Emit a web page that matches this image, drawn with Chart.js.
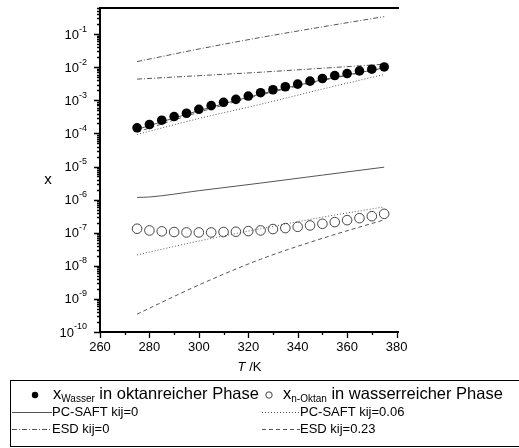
<!DOCTYPE html>
<html>
<head>
<meta charset="utf-8">
<script src="https://cdn.jsdelivr.net/npm/chart.js@4.4.1/dist/chart.umd.min.js"></script>
<style>
  html, body { margin: 0; padding: 0; background: #fff; }
</style>
</head>
<body>
<canvas id="diagramm" width="519" height="448"></canvas>
<script>
// Messpunkte (Temperatur in K)
const T_EXP = [275, 280, 285, 290, 295, 300, 305, 310, 315, 320, 325, 330, 335, 340, 345, 350, 355, 360, 365, 370, 375];
const X_WASSER = [1.48e-4, 1.86e-4, 2.51e-4, 3.24e-4, 4.07e-4, 5.37e-4, 6.92e-4, 8.71e-4, 1.07e-3, 1.35e-3, 1.70e-3,
                  2.09e-3, 2.57e-3, 3.09e-3, 3.80e-3, 4.57e-3, 5.62e-3, 6.46e-3, 7.76e-3, 8.71e-3, 1.02e-2];
const X_OKTAN = [1.32e-7, 1.17e-7, 1.10e-7, 1.05e-7, 1.02e-7, 1.02e-7, 1.02e-7, 1.05e-7, 1.07e-7, 1.12e-7, 1.17e-7,
                 1.29e-7, 1.38e-7, 1.51e-7, 1.66e-7, 1.86e-7, 2.09e-7, 2.40e-7, 2.75e-7, 3.16e-7, 3.72e-7];

// Modellrechnungen
const T_CALC = [275, 300, 325, 350, 375];
const T_CALC_B = [275, 280, 300, 325, 350, 375];
const ESD0_OBEN = [1.48e-2, 3.55e-2, 7.94e-2, 0.166, 0.339];
const ESD0_WASSER = [4.37e-3, 5.56e-3, 7.08e-3, 9.33e-3, 1.23e-2];
const PCSAFT0_WASSER = [1.32e-4, 4.90e-4, 1.55e-3, 4.17e-3, 9.55e-3];
const ESD023_WASSER = [1.10e-4, 4.37e-4, 1.45e-3, 3.98e-3, 9.33e-3];
const PCSAFT006_WASSER = [9.3e-5, 2.82e-4, 7.59e-4, 2.19e-3, 6.03e-3];
const PCSAFT0_OKTAN = [1.17e-6, 1.20e-6, 1.86e-6, 3.16e-6, 5.50e-6, 9.55e-6];
const PCSAFT006_OKTAN = [2.14e-8, 5.62e-8, 1.32e-7, 2.95e-7, 6.03e-7];
const ESD023_OKTAN = [3.47e-10, 2.63e-9, 1.58e-8, 6.76e-8, 2.45e-7];

const X_TICKS = [260, 280, 300, 320, 340, 360, 380];

const SCHRIFT = '"Liberation Sans", Arial, sans-serif';
const LINIE = '#555';
const STRICHE = {
    solid: [],
    dotted: [1, 2],
    dashdot: [5, 2, 1, 2],
    dashed: [4, 3]
};

function punkte(ts, vs) {
    return ts.map((t, i) => ({ x: t, y: vs[i] }));
}

function linie(ts, vs, stil) {
    return {
        data: punkte(ts, vs),
        showLine: true,
        pointRadius: 0,
        borderColor: LINIE,
        borderWidth: 1,
        borderDash: STRICHE[stil],
        cubicInterpolationMode: 'monotone',
        order: 5
    };
}

// Text mit Tiefstellung, z.B. x_Wasser
function textMitIndex(ctx, x, y, basis, index, rest, gr, grIndex) {
    ctx.font = gr + 'px ' + SCHRIFT;
    ctx.fillText(basis, x, y);
    x += ctx.measureText(basis).width;
    ctx.font = grIndex + 'px ' + SCHRIFT;
    ctx.fillText(index, x, y + 5);
    x += ctx.measureText(index).width;
    ctx.font = gr + 'px ' + SCHRIFT;
    ctx.fillText(rest, x, y);
}

function musterLinie(ctx, x1, x2, y, stil) {
    ctx.save();
    ctx.strokeStyle = LINIE;
    ctx.lineWidth = 1;
    ctx.setLineDash(STRICHE[stil]);
    ctx.beginPath();
    ctx.moveTo(x1, y + 0.5);
    ctx.lineTo(x2, y + 0.5);
    ctx.stroke();
    ctx.restore();
}

const achsenPlugin = {
    id: 'achsen',
    afterDraw(chart) {
        const { ctx, chartArea: a, scales: { x, y } } = chart;
        ctx.save();

        // Rahmen: links, unten, oben
        ctx.strokeStyle = '#000';
        ctx.lineWidth = 2;
        ctx.beginPath();
        ctx.moveTo(a.right, a.top);
        ctx.lineTo(a.left, a.top);
        ctx.lineTo(a.left, a.bottom);
        ctx.lineTo(a.right, a.bottom);
        ctx.stroke();

        // y-Ticks (logarithmisch)
        ctx.lineWidth = 1.3;
        ctx.beginPath();
        for (let e = -10; e <= -1; e++) {
            for (let m = 1; m <= 9; m++) {
                const v = m * Math.pow(10, e);
                if (v > y.max) break;
                const py = Math.round(y.getPixelForValue(v)) + 0.5;
                const len = m === 1 ? 6 : 3;
                ctx.moveTo(a.left - len, py);
                ctx.lineTo(a.left, py);
            }
        }
        ctx.stroke();

        // y-Beschriftung 10^n
        ctx.fillStyle = '#000';
        ctx.textBaseline = 'middle';
        ctx.textAlign = 'left';
        for (let e = -10; e <= -1; e++) {
            const py = y.getPixelForValue(Math.pow(10, e));
            const hoch = String(e);
            ctx.font = '9px ' + SCHRIFT;
            const wh = ctx.measureText(hoch).width;
            ctx.font = '13px ' + SCHRIFT;
            const wb = ctx.measureText('10').width;
            const rechts = 87;
            ctx.fillText('10', rechts - wh - wb, py + 1);
            ctx.font = '9px ' + SCHRIFT;
            ctx.fillText(hoch, rechts - wh, py - 5);
        }

        // x-Ticks
        ctx.lineWidth = 1.3;
        ctx.beginPath();
        for (let t = 260; t <= 380; t += 10) {
            const px = Math.round(x.getPixelForValue(t)) + 0.5;
            const len = t % 20 === 0 ? 6 : 3;
            ctx.moveTo(px, a.bottom);
            ctx.lineTo(px, a.bottom + len);
        }
        ctx.stroke();

        ctx.textAlign = 'center';
        ctx.font = '13px ' + SCHRIFT;
        X_TICKS.forEach(t => ctx.fillText(String(t), x.getPixelForValue(t), 347));

        // Achsentitel
        const mitte = (a.left + a.right) / 2;
        ctx.textAlign = 'left';
        ctx.font = 'italic 13px ' + SCHRIFT;
        const wT = ctx.measureText('T').width;
        ctx.font = '13px ' + SCHRIFT;
        const wK = ctx.measureText(' /K').width;
        let xs = mitte - (wT + wK) / 2;
        ctx.font = 'italic 13px ' + SCHRIFT;
        ctx.fillText('T', xs, 367);
        ctx.font = '13px ' + SCHRIFT;
        ctx.fillText(' /K', xs + wT, 367);

        ctx.textAlign = 'center';
        ctx.font = '15px ' + SCHRIFT;
        ctx.fillText('x', 48, 180);

        // Legende
        ctx.lineWidth = 1;
        ctx.strokeStyle = '#000';
        ctx.setLineDash([]);
        ctx.strokeRect(10.5, 380.5, 520, 66);

        ctx.textAlign = 'left';
        ctx.fillStyle = '#000';
        ctx.beginPath();
        ctx.arc(35, 395, 3.2, 0, Math.PI * 2);
        ctx.fill();
        textMitIndex(ctx, 53, 394, 'x', 'Wasser', ' in oktanreicher Phase', 16.5, 10);

        ctx.strokeStyle = '#444';
        ctx.beginPath();
        ctx.arc(269, 395, 3.2, 0, Math.PI * 2);
        ctx.stroke();
        textMitIndex(ctx, 283, 394, 'x', 'n-Oktan', ' in wasserreicher Phase', 16.5, 10);

        ctx.font = '13px ' + SCHRIFT;
        musterLinie(ctx, 12, 52, 412, 'solid');
        ctx.fillText('PC-SAFT kij=0', 52, 412);
        musterLinie(ctx, 262, 300, 412, 'dotted');
        ctx.fillText('PC-SAFT kij=0.06', 300, 412);
        musterLinie(ctx, 12, 52, 429, 'dashdot');
        ctx.fillText('ESD kij=0', 52, 429);
        musterLinie(ctx, 262, 300, 429, 'dashed');
        ctx.fillText('ESD kij=0.23', 300, 429);

        ctx.restore();
    }
};

new Chart(document.getElementById('diagramm'), {
    type: 'scatter',
    data: {
        datasets: [
            {
                data: punkte(T_EXP, X_WASSER),
                pointRadius: 4.8,
                pointBackgroundColor: '#000',
                pointBorderColor: '#000',
                pointBorderWidth: 0,
                showLine: false,
                order: 1
            },
            {
                data: punkte(T_EXP, X_OKTAN),
                pointRadius: 4.8,
                pointBackgroundColor: 'rgba(0,0,0,0)',
                pointBorderColor: '#444',
                pointBorderWidth: 1,
                showLine: false,
                order: 2
            },
            linie(T_CALC, ESD0_OBEN, 'dashdot'),
            linie(T_CALC, ESD0_WASSER, 'dashdot'),
            linie(T_CALC, PCSAFT0_WASSER, 'solid'),
            linie(T_CALC, ESD023_WASSER, 'dashed'),
            linie(T_CALC, PCSAFT006_WASSER, 'dotted'),
            linie(T_CALC_B, PCSAFT0_OKTAN, 'solid'),
            linie(T_CALC, PCSAFT006_OKTAN, 'dotted'),
            linie(T_CALC, ESD023_OKTAN, 'dashed')
        ]
    },
    options: {
        responsive: false,
        animation: false,
        devicePixelRatio: 1,
        layout: { padding: { left: 100, right: 120, top: 8, bottom: 116 } },
        scales: {
            x: { type: 'linear', min: 260, max: 381, display: false },
            y: { type: 'logarithmic', min: 1e-10, max: Math.pow(10, -0.21), display: false }
        },
        plugins: {
            legend: { display: false },
            tooltip: { enabled: false }
        }
    },
    plugins: [achsenPlugin]
});
</script>
</body>
</html>
